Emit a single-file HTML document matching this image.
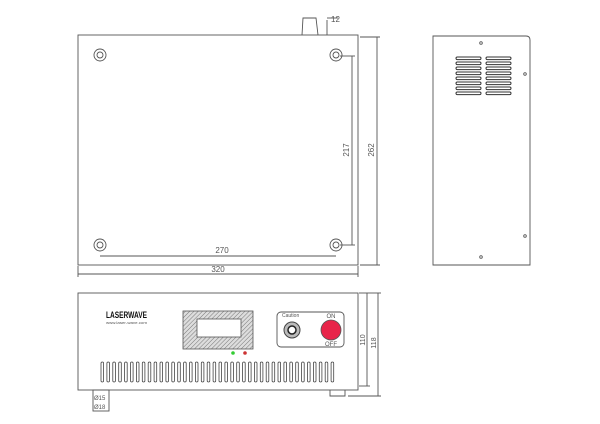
<!DOCTYPE html>
<html><head><style>
html,body{margin:0;padding:0;background:#fff;width:600px;height:424px;overflow:hidden}
text{font-family:"Liberation Sans",sans-serif;fill:#555}
</style></head><body>
<svg width="600" height="424" viewBox="0 0 600 424" xmlns="http://www.w3.org/2000/svg">
<defs>
<pattern id="h" width="3" height="3" patternUnits="userSpaceOnUse" patternTransform="rotate(45)"><rect width="3" height="3" fill="#ddd"/><line x1="0" y1="0" x2="0" y2="3" stroke="#777" stroke-width="1"/></pattern>
</defs>
<g fill="none" stroke="#555" stroke-width="0.9">
<rect x="78" y="35" width="280" height="230"/>
<path d="M302 35 L303 18 L316 18 L318 35"/>
<line x1="327" y1="20" x2="327" y2="35"/><line x1="327" y1="18" x2="338" y2="18"/>
<g>
<circle cx="100" cy="55" r="6"/><circle cx="100" cy="55" r="3"/>
<circle cx="336" cy="55" r="6"/><circle cx="336" cy="55" r="3"/>
<circle cx="100" cy="245" r="6"/><circle cx="100" cy="245" r="3"/>
<circle cx="336" cy="245" r="6"/><circle cx="336" cy="245" r="3"/>
</g>
<line x1="352" y1="56" x2="352" y2="245"/><line x1="340" y1="56" x2="355" y2="56"/><line x1="340" y1="245" x2="355" y2="245"/>
<line x1="377" y1="37" x2="377" y2="265"/><line x1="360" y1="37" x2="380" y2="37"/><line x1="360" y1="265" x2="380" y2="265"/>
<line x1="100" y1="256" x2="336" y2="256"/>
<line x1="78" y1="274" x2="358" y2="274"/><line x1="78" y1="266" x2="78" y2="277"/><line x1="358" y1="266" x2="358" y2="277"/>
<path d="M433 36 H526 Q530 36 530 40 V265 H433 Z"/>
<circle cx="481" cy="43" r="1.3"/><circle cx="525" cy="74" r="1.3"/><circle cx="525" cy="236" r="1.3"/><circle cx="481" cy="257" r="1.3"/>
</g>
<g fill="#fff" stroke="#333" stroke-width="1">
<rect x="456" y="57" width="25" height="2.6" rx="1.3"/><rect x="486" y="57" width="25" height="2.6" rx="1.3"/>
<rect x="456" y="62" width="25" height="2.6" rx="1.3"/><rect x="486" y="62" width="25" height="2.6" rx="1.3"/>
<rect x="456" y="67" width="25" height="2.6" rx="1.3"/><rect x="486" y="67" width="25" height="2.6" rx="1.3"/>
<rect x="456" y="72" width="25" height="2.6" rx="1.3"/><rect x="486" y="72" width="25" height="2.6" rx="1.3"/>
<rect x="456" y="77" width="25" height="2.6" rx="1.3"/><rect x="486" y="77" width="25" height="2.6" rx="1.3"/>
<rect x="456" y="82" width="25" height="2.6" rx="1.3"/><rect x="486" y="82" width="25" height="2.6" rx="1.3"/>
<rect x="456" y="87" width="25" height="2.6" rx="1.3"/><rect x="486" y="87" width="25" height="2.6" rx="1.3"/>
<rect x="456" y="92" width="25" height="2.6" rx="1.3"/><rect x="486" y="92" width="25" height="2.6" rx="1.3"/>
</g>
<text x="331" y="22" font-size="8">12</text>
<text transform="translate(349,150) rotate(-90)" font-size="8" text-anchor="middle">217</text>
<text transform="translate(374,150) rotate(-90)" font-size="8" text-anchor="middle">262</text>
<text x="222" y="253" font-size="8" text-anchor="middle">270</text>
<text x="218" y="272" font-size="8" text-anchor="middle">320</text>
<g fill="none" stroke="#555" stroke-width="0.9">
<rect x="78" y="293" width="280" height="97"/>
<rect x="93" y="390" width="16" height="21"/>
<path d="M330 390 V396 H345 V390"/>
<line x1="367" y1="293" x2="367" y2="386"/><line x1="359" y1="293" x2="370" y2="293"/><line x1="359" y1="386" x2="370" y2="386"/>
<line x1="378" y1="293" x2="378" y2="396"/><line x1="370" y1="293" x2="381" y2="293"/><line x1="348" y1="396" x2="381" y2="396"/>
<rect x="277" y="312" width="67" height="35" rx="4"/>
</g>
<rect x="183" y="311" width="70" height="38" fill="url(#h)" stroke="#555" stroke-width="0.8"/>
<rect x="197" y="319" width="44" height="18" fill="#fff" stroke="#555" stroke-width="0.8"/>
<circle cx="292" cy="330" r="8" fill="#bbb" stroke="#444"/>
<circle cx="292" cy="330" r="4" fill="#fff" stroke="#222" stroke-width="1.5"/>
<circle cx="331" cy="330" r="10" fill="#e8254a" stroke="#555" stroke-width="0.8"/>
<circle cx="233" cy="353" r="1.8" fill="#3c3"/><circle cx="245" cy="353" r="1.8" fill="#c33"/>
<text x="106" y="318" font-size="9" font-weight="bold" style="fill:#111" textLength="41" lengthAdjust="spacingAndGlyphs">LASERWAVE</text>
<text x="106" y="324" font-size="4" textLength="41" lengthAdjust="spacingAndGlyphs">www.laser-wave.com</text>
<text x="282" y="317" font-size="5">Caution</text>
<text x="331" y="318" font-size="6" text-anchor="middle">ON</text>
<text x="331" y="346" font-size="6" text-anchor="middle">OFF</text>
<text transform="translate(365,340) rotate(-90)" font-size="7" text-anchor="middle">110</text>
<text transform="translate(376,343) rotate(-90)" font-size="7" text-anchor="middle">118</text>
<text x="94" y="400" font-size="6">Ø15</text>
<text x="94" y="409" font-size="6">Ø18</text>
<g fill="none" stroke="#444" stroke-width="0.8">
<rect x="101" y="362" width="2.6" height="20" rx="1.3"/><rect x="106.9" y="362" width="2.6" height="20" rx="1.3"/><rect x="112.8" y="362" width="2.6" height="20" rx="1.3"/><rect x="118.7" y="362" width="2.6" height="20" rx="1.3"/><rect x="124.6" y="362" width="2.6" height="20" rx="1.3"/><rect x="130.5" y="362" width="2.6" height="20" rx="1.3"/><rect x="136.4" y="362" width="2.6" height="20" rx="1.3"/><rect x="142.3" y="362" width="2.6" height="20" rx="1.3"/><rect x="148.2" y="362" width="2.6" height="20" rx="1.3"/><rect x="154.1" y="362" width="2.6" height="20" rx="1.3"/><rect x="160" y="362" width="2.6" height="20" rx="1.3"/><rect x="165.9" y="362" width="2.6" height="20" rx="1.3"/><rect x="171.8" y="362" width="2.6" height="20" rx="1.3"/><rect x="177.7" y="362" width="2.6" height="20" rx="1.3"/><rect x="183.6" y="362" width="2.6" height="20" rx="1.3"/><rect x="189.5" y="362" width="2.6" height="20" rx="1.3"/><rect x="195.4" y="362" width="2.6" height="20" rx="1.3"/><rect x="201.3" y="362" width="2.6" height="20" rx="1.3"/><rect x="207.2" y="362" width="2.6" height="20" rx="1.3"/><rect x="213.1" y="362" width="2.6" height="20" rx="1.3"/><rect x="219" y="362" width="2.6" height="20" rx="1.3"/><rect x="224.9" y="362" width="2.6" height="20" rx="1.3"/><rect x="230.8" y="362" width="2.6" height="20" rx="1.3"/><rect x="236.7" y="362" width="2.6" height="20" rx="1.3"/><rect x="242.6" y="362" width="2.6" height="20" rx="1.3"/><rect x="248.5" y="362" width="2.6" height="20" rx="1.3"/><rect x="254.4" y="362" width="2.6" height="20" rx="1.3"/><rect x="260.3" y="362" width="2.6" height="20" rx="1.3"/><rect x="266.2" y="362" width="2.6" height="20" rx="1.3"/><rect x="272.1" y="362" width="2.6" height="20" rx="1.3"/><rect x="278" y="362" width="2.6" height="20" rx="1.3"/><rect x="283.9" y="362" width="2.6" height="20" rx="1.3"/><rect x="289.8" y="362" width="2.6" height="20" rx="1.3"/><rect x="295.7" y="362" width="2.6" height="20" rx="1.3"/><rect x="301.6" y="362" width="2.6" height="20" rx="1.3"/><rect x="307.5" y="362" width="2.6" height="20" rx="1.3"/><rect x="313.4" y="362" width="2.6" height="20" rx="1.3"/><rect x="319.3" y="362" width="2.6" height="20" rx="1.3"/><rect x="325.2" y="362" width="2.6" height="20" rx="1.3"/><rect x="331.1" y="362" width="2.6" height="20" rx="1.3"/>
</g>
</svg>
</body></html>
